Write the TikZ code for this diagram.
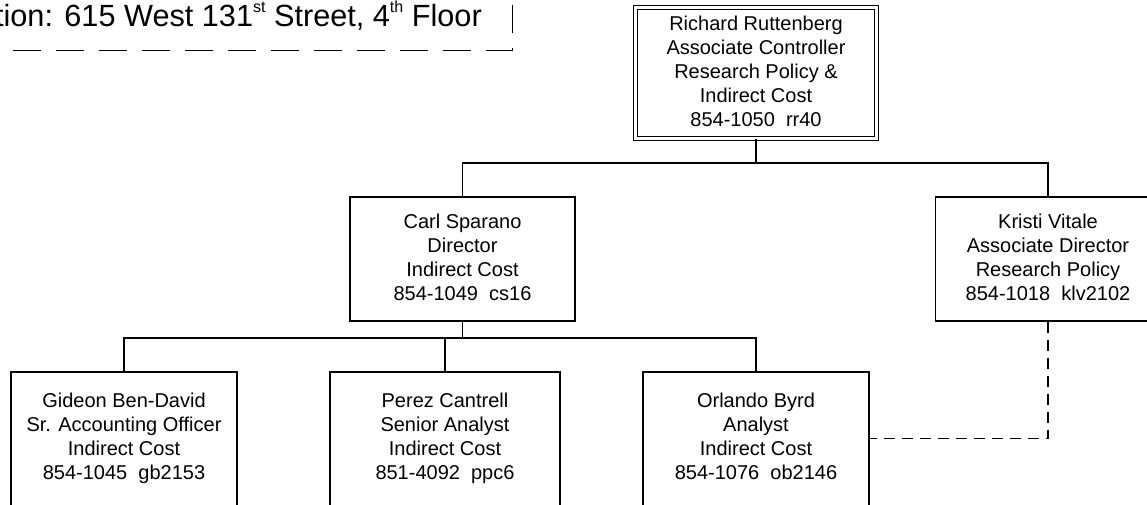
\documentclass[tikz,border=0pt]{standalone}
\usepackage{fontspec}
\setmainfont{Liberation Sans}
\newcommand\locsup[1]{\raisebox{10.5pt}{\fontsize{12pt}{12pt}\selectfont #1}}
\newcommand\topstrut{\rule{0pt}{14.5pt}}
\newcommand\botstrut{\rule[-3.3pt]{0pt}{3.3pt}}
\begin{document}
\begin{tikzpicture}[x=0.75pt,y=-0.75pt,
  conn/.style={draw, line width=1.1pt},
  dotconn/.style={draw, line width=1.1pt, dash pattern=on 8.25pt off 5.25pt},
  person/.style={draw, line width=1.1pt, rectangle, inner sep=0pt, align=center,
    font=\fontsize{15pt}{18pt}\selectfont,
    execute at begin node=\topstrut, execute at end node=\botstrut},
  midbox/.style={person, minimum width=168.75pt, minimum height=93pt},
  lowbox/.style={person, minimum width=169.5pt, minimum height=100.1pt},
  headbox/.style={person, line width=0.8pt, double, double distance=2.6pt,
    minimum width=180.75pt, minimum height=98.25pt},
  locbox/.style={draw, line width=1.1pt, dash pattern=on 21pt off 11.25pt,
    rectangle, minimum width=600pt, minimum height=100pt, inner sep=0pt},
  loctext/.style={font=\fontsize{23pt}{27pt}\selectfont, inner sep=0pt}
]
\useasboundingbox (0,0) rectangle (1147,505);
\clip (0,0) rectangle (1147,505);

% location box
\node[locbox, anchor=south east] (locbox) at (513,51) {};
\node[loctext, anchor=base east] (loc) at (482,27)
  {Location: 615 West 131\locsup{st} Street, 4\locsup{th} Floor};

% boxes
\node[headbox] (top) at (756,73)
  {Richard Ruttenberg\\Associate Controller\\Research Policy \&\\Indirect Cost\\854-1050~~rr40};
\node[midbox] (carl) at (462.5,259)
  {Carl Sparano\\Director\\Indirect Cost\\854-1049~~cs16};
\node[midbox] (kristi) at (1048,259)
  {Kristi Vitale\\Associate Director\\Research Policy\\854-1018~~klv2102};
\node[lowbox] (gideon) at (124,438.75)
  {Gideon Ben-David\\Sr. Accounting Officer\\Indirect Cost\\854-1045~~gb2153};
\node[lowbox, minimum width=172.5pt] (perez) at (445,438.75)
  {Perez Cantrell\\Senior Analyst\\Indirect Cost\\851-4092~~ppc6};
\node[lowbox] (orlando) at (756,438.75)
  {Orlando Byrd\\Analyst\\Indirect Cost\\854-1076~~ob2146};

% connectors
\coordinate (bus1) at (756,163);
\coordinate (bus2) at (462.5,338);
\draw[conn] (top.south) -- (bus1) -| (carl.north);
\draw[conn] (bus1) -| (kristi.north);
\draw[conn] (carl.south) -- (bus2);
\draw[conn] (bus2) -| (gideon.north);
\draw[conn] (bus2) -| (perez.north);
\draw[conn] (bus2) -| (orlando.north);
\draw[dotconn] (kristi.south) |- (orlando.east);
\end{tikzpicture}
\end{document}
